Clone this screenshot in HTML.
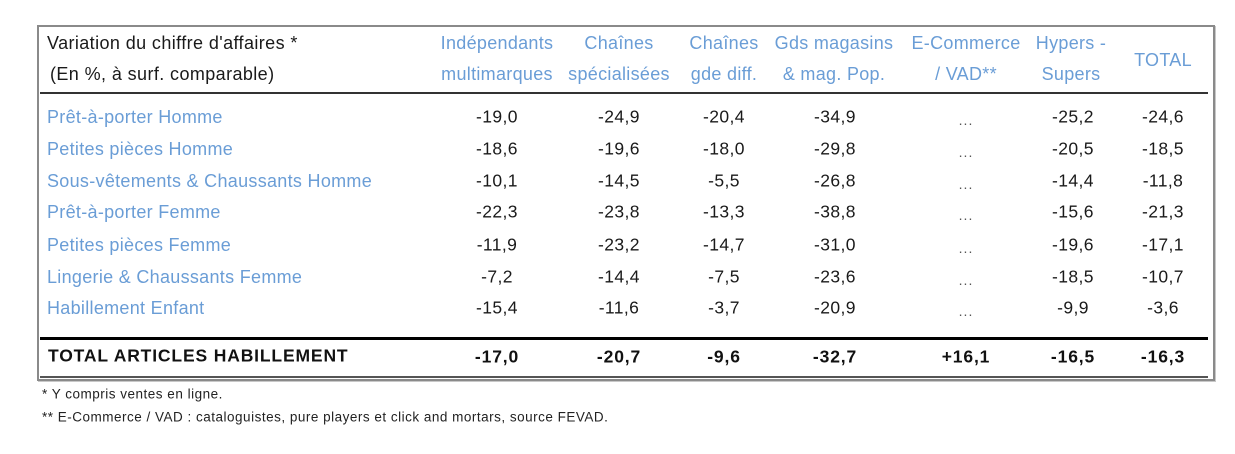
<!DOCTYPE html>
<html>
<head>
<meta charset="utf-8">
<style>
  html,body{margin:0;padding:0;background:#fff;}
  body{width:1235px;height:454px;position:relative;overflow:hidden;font-family:"Liberation Sans",Arial,sans-serif;}
  .box{position:absolute;left:37px;top:25px;width:1174px;height:352px;border:2px solid #8a8a8a;box-shadow:1px 1px 0 #c8c8c8;}
  .line{position:absolute;left:40px;width:1168px;}
  .t{position:absolute;white-space:pre;line-height:1;}
  .c{transform:translate(-50%,-50%);}
  .l{transform:translateY(-50%);}
  .blue{color:#6a9dd6;font-size:18px;letter-spacing:0.3px;}
  .hdr{color:#1a1a1a;font-size:18px;letter-spacing:0.4px;}
  .num{color:#1a1a1a;font-size:17.5px;letter-spacing:0.4px;}
  .dots{color:#555;font-size:14px;letter-spacing:1px;}
  .bold{color:#111;font-size:17.5px;font-weight:bold;letter-spacing:0.85px;}
  .foot{color:#222;font-size:13.5px;letter-spacing:0.5px;}
</style>
</head>
<body>
<div class="box"></div>
<div class="line" style="top:92px;height:2px;background:#333;"></div>
<div class="line" style="top:337px;height:3px;background:#000;"></div>
<div class="line" style="top:376px;height:2px;background:#555;"></div>

<!-- header left -->
<div class="t l hdr" style="left:47px;top:43px;">Variation du chiffre d'affaires *</div>
<div class="t l hdr" style="left:50px;top:74px;">(En %, à surf. comparable)</div>

<!-- column headers -->
<div class="t c blue" style="left:497px;top:43px;">Indépendants</div>
<div class="t c blue" style="left:497px;top:74px;">multimarques</div>
<div class="t c blue" style="left:619px;top:43px;">Chaînes</div>
<div class="t c blue" style="left:619px;top:74px;">spécialisées</div>
<div class="t c blue" style="left:724px;top:43px;">Chaînes</div>
<div class="t c blue" style="left:724px;top:74px;">gde diff.</div>
<div class="t c blue" style="left:834px;top:43px;">Gds magasins</div>
<div class="t c blue" style="left:834px;top:74px;">&amp; mag. Pop.</div>
<div class="t c blue" style="left:966px;top:43px;">E-Commerce</div>
<div class="t c blue" style="left:966px;top:74px;">/ VAD**</div>
<div class="t c blue" style="left:1071px;top:43px;">Hypers -</div>
<div class="t c blue" style="left:1071px;top:74px;">Supers</div>
<div class="t c blue" style="left:1163px;top:60px;">TOTAL</div>

<!-- rows -->
<div class="t l blue" style="left:47px;top:117px;">Prêt-à-porter Homme</div>
<div class="t l blue" style="left:47px;top:149px;">Petites pièces Homme</div>
<div class="t l blue" style="left:47px;top:181px;">Sous-vêtements &amp; Chaussants Homme</div>
<div class="t l blue" style="left:47px;top:212px;">Prêt-à-porter Femme</div>
<div class="t l blue" style="left:47px;top:245px;">Petites pièces Femme</div>
<div class="t l blue" style="left:47px;top:277px;">Lingerie &amp; Chaussants Femme</div>
<div class="t l blue" style="left:47px;top:308px;">Habillement Enfant</div>

<!-- row 1 -->
<div class="t c num" style="left:497px;top:117px;">-19,0</div>
<div class="t c num" style="left:619px;top:117px;">-24,9</div>
<div class="t c num" style="left:724px;top:117px;">-20,4</div>
<div class="t c num" style="left:835px;top:117px;">-34,9</div>
<div class="t c dots" style="left:966px;top:120px;">...</div>
<div class="t c num" style="left:1073px;top:117px;">-25,2</div>
<div class="t c num" style="left:1163px;top:117px;">-24,6</div>
<!-- row 2 -->
<div class="t c num" style="left:497px;top:149px;">-18,6</div>
<div class="t c num" style="left:619px;top:149px;">-19,6</div>
<div class="t c num" style="left:724px;top:149px;">-18,0</div>
<div class="t c num" style="left:835px;top:149px;">-29,8</div>
<div class="t c dots" style="left:966px;top:152px;">...</div>
<div class="t c num" style="left:1073px;top:149px;">-20,5</div>
<div class="t c num" style="left:1163px;top:149px;">-18,5</div>
<!-- row 3 -->
<div class="t c num" style="left:497px;top:181px;">-10,1</div>
<div class="t c num" style="left:619px;top:181px;">-14,5</div>
<div class="t c num" style="left:724px;top:181px;">-5,5</div>
<div class="t c num" style="left:835px;top:181px;">-26,8</div>
<div class="t c dots" style="left:966px;top:184px;">...</div>
<div class="t c num" style="left:1073px;top:181px;">-14,4</div>
<div class="t c num" style="left:1163px;top:181px;">-11,8</div>
<!-- row 4 -->
<div class="t c num" style="left:497px;top:212px;">-22,3</div>
<div class="t c num" style="left:619px;top:212px;">-23,8</div>
<div class="t c num" style="left:724px;top:212px;">-13,3</div>
<div class="t c num" style="left:835px;top:212px;">-38,8</div>
<div class="t c dots" style="left:966px;top:215px;">...</div>
<div class="t c num" style="left:1073px;top:212px;">-15,6</div>
<div class="t c num" style="left:1163px;top:212px;">-21,3</div>
<!-- row 5 -->
<div class="t c num" style="left:497px;top:245px;">-11,9</div>
<div class="t c num" style="left:619px;top:245px;">-23,2</div>
<div class="t c num" style="left:724px;top:245px;">-14,7</div>
<div class="t c num" style="left:835px;top:245px;">-31,0</div>
<div class="t c dots" style="left:966px;top:248px;">...</div>
<div class="t c num" style="left:1073px;top:245px;">-19,6</div>
<div class="t c num" style="left:1163px;top:245px;">-17,1</div>
<!-- row 6 -->
<div class="t c num" style="left:497px;top:277px;">-7,2</div>
<div class="t c num" style="left:619px;top:277px;">-14,4</div>
<div class="t c num" style="left:724px;top:277px;">-7,5</div>
<div class="t c num" style="left:835px;top:277px;">-23,6</div>
<div class="t c dots" style="left:966px;top:280px;">...</div>
<div class="t c num" style="left:1073px;top:277px;">-18,5</div>
<div class="t c num" style="left:1163px;top:277px;">-10,7</div>
<!-- row 7 -->
<div class="t c num" style="left:497px;top:308px;">-15,4</div>
<div class="t c num" style="left:619px;top:308px;">-11,6</div>
<div class="t c num" style="left:724px;top:308px;">-3,7</div>
<div class="t c num" style="left:835px;top:308px;">-20,9</div>
<div class="t c dots" style="left:966px;top:311px;">...</div>
<div class="t c num" style="left:1073px;top:308px;">-9,9</div>
<div class="t c num" style="left:1163px;top:308px;">-3,6</div>

<!-- total -->
<div class="t l bold" style="left:48px;top:356px;">TOTAL ARTICLES HABILLEMENT</div>
<div class="t c bold" style="left:497px;top:357px;">-17,0</div>
<div class="t c bold" style="left:619px;top:357px;">-20,7</div>
<div class="t c bold" style="left:724px;top:357px;">-9,6</div>
<div class="t c bold" style="left:835px;top:357px;">-32,7</div>
<div class="t c bold" style="left:966px;top:357px;">+16,1</div>
<div class="t c bold" style="left:1073px;top:357px;">-16,5</div>
<div class="t c bold" style="left:1163px;top:357px;">-16,3</div>

<!-- footnotes -->
<div class="t l foot" style="left:42px;top:394px;">* Y compris ventes en ligne.</div>
<div class="t l foot" style="left:42px;top:417px;">** E-Commerce / VAD : cataloguistes, pure players et click and mortars, source FEVAD.</div>
</body>
</html>
